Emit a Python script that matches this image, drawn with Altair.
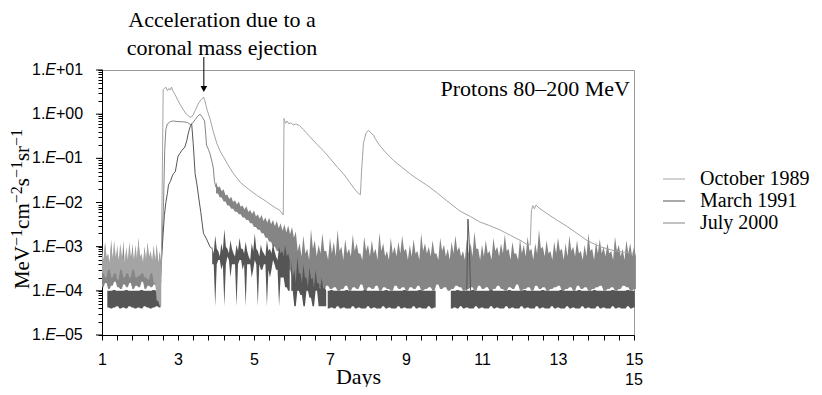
import altair as alt
import pandas as pd

SERIF = "Liberation Serif"
SANS = "Liberation Sans"

SERIES = ["October 1989", "March 1991", "July 2000"]
COLORS = ["#a4a4a4", "#555555", "#858585"]
UNIT = 1e-4  # noise envelopes are listed in units of 1e-4

# ---------------- October 1989 ----------------
OCT_BG_START, OCT_BG_STEP = 1.00, 0.08
OCT_BG_TOP = [9, 13, 7, 11, 14, 8, 12, 6, 10, 13, 8, 11, 15, 7, 10, 12, 8, 11, 9, 7]
OCT_BG_CORE = [5, 6, 4.5, 5.5, 6, 5, 6.5, 4, 5, 6, 5, 5.5, 6, 4.5, 5, 6, 5, 5, 4, 3]
OCT_BG_LO = [2.5, 2, 3, 2, 2.5, 1.8, 3, 2, 2.5, 2, 3, 2, 2.2, 2.5, 2, 1.8, 2.5, 1.5, 0.6, 0.45]
OCT_DAYS = [2.56, 2.60, 2.61, 2.65, 2.68, 2.72, 2.76, 2.79, 2.83, 2.87, 2.92, 2.97, 3.05, 3.14,
            3.22, 3.32, 3.38, 3.45, 3.53, 3.60, 3.67, 3.71, 3.76, 3.84, 3.93, 4.02, 4.10, 4.19,
            4.30, 4.46, 4.65, 4.89, 5.10, 5.33, 5.50, 5.68, 5.77, 5.79, 5.83, 5.87, 5.92, 5.97,
            6.03, 6.10, 6.20, 6.30, 6.39, 6.50, 6.65, 6.82, 7.00, 7.20, 7.35, 7.50, 7.65, 7.75,
            7.80, 7.83, 7.88, 7.95, 8.02, 8.08, 8.14, 8.20, 8.30, 8.45, 8.67, 8.90, 9.10, 9.30,
            9.54, 9.80, 10.07, 10.25, 10.42, 10.70, 10.95, 11.20, 11.47, 11.75, 12.00, 12.20,
            12.27, 12.30, 12.34, 12.38, 12.42, 12.50, 12.70, 12.95, 13.23, 13.50, 13.75, 14.10,
            14.50, 15.00]
OCT_FLUX = [3e-4, 0.5, 3.6, 3.9, 4.1, 3.4, 3.8, 3.5, 4.1, 3.3, 2.8, 2.3, 1.7, 1.25,
            1.0, 0.85, 0.9, 1.2, 1.7, 2.1, 2.4, 2.0, 1.3, 0.8, 0.4, 0.22, 0.15, 0.11,
            0.075, 0.045, 0.028, 0.019, 0.014, 0.0105, 0.0082, 0.0066, 0.0052, 0.8, 0.62, 0.7, 0.6, 0.64,
            0.57, 0.6, 0.55, 0.45, 0.37, 0.29, 0.21, 0.15, 0.10, 0.062, 0.045, 0.030, 0.020, 0.016,
            0.015, 0.05, 0.22, 0.38, 0.43, 0.37, 0.34, 0.27, 0.20, 0.14, 0.09, 0.062, 0.045, 0.034,
            0.025, 0.017, 0.011, 0.0083, 0.0064, 0.0048, 0.0036, 0.0030, 0.0024, 0.0018, 0.0014, 0.0011,
            0.0011, 0.0065, 0.0085, 0.0072, 0.0088, 0.0075, 0.0057, 0.0041, 0.0029, 0.0020, 0.0014, 0.0010,
            0.0008, 0.0007]

# ---------------- July 2000 ----------------
JUL_BG_START, JUL_BG_STEP = 1.00, 0.08
JUL_BG_TOP = [7, 12, 5, 15, 8, 11, 6, 14, 9, 5, 12, 7, 16, 6, 10, 13, 5, 9, 12, 8]
JUL_BG_CORE = [3, 4, 3, 4.5, 3.5, 4, 3, 4, 3.5, 3, 4, 3.5, 4.5, 3, 4, 4, 3, 3.5, 4, 3.5]
JUL_BG_LO = [1.2, 1.5, 1.1, 1.3, 1.6, 1.2, 1.1, 1.4, 1.2, 1.5, 1.1, 1.3, 1.2, 1.6, 1.1, 1.3, 1.2, 1.4, 1.1, 1.5]
JUL_DAYS = [2.56, 2.62, 2.65, 2.68, 2.72, 2.80, 2.88, 3.00, 3.14, 3.25, 3.32, 3.38, 3.45, 3.52,
            3.58, 3.64, 3.70, 3.73, 3.75, 3.80, 3.84, 3.90, 3.93, 3.96, 4.00]
JUL_FLUX = [4e-4, 0.01, 0.15, 0.45, 0.6, 0.68, 0.7, 0.68, 0.67, 0.65, 0.58, 0.62, 0.75, 0.9,
            1.0, 0.85, 0.7, 0.35, 0.2, 0.16, 0.13, 0.08, 0.06, 0.03, 0.022]
JUL_TAIL_START, JUL_TAIL_STEP = 4.00, 0.10
JUL_TAIL_TOP = [290, 230, 200, 150, 135, 112, 105, 86, 82, 68, 66, 54, 52, 46, 45, 40, 38, 34, 32, 30, 28,
                22, 12, 18, 9, 25, 14, 11, 20, 8, 16, 13, 24, 10, 15, 9, 19, 12, 7, 17, 11,
                14, 9, 21, 12, 8, 16, 10, 13, 18, 9, 11, 15, 8, 20, 12, 10, 14, 7, 16, 11,
                9, 13, 18, 10, 8, 15, 12, 22, 9, 11, 14, 8, 16, 10, 12, 19, 9, 13, 7, 15,
                11, 17, 9, 12, 24, 10, 14, 8, 13, 16, 9, 12, 18, 10, 14, 8, 11, 20, 9, 13,
                15, 10, 12, 8, 17, 11, 9, 14, 12, 10]
JUL_TAIL_CORE = [220, 180, 145, 120, 102, 90, 80, 69, 61, 55, 48, 43, 38, 35, 32, 29, 26, 23, 21, 19, 16,
                 8, 6, 7, 5, 9, 6, 7, 8, 5, 7, 6, 8, 5, 7, 6, 8, 7, 5, 8, 6,
                 7, 5, 8, 6, 5, 7, 6, 7, 8, 5, 6, 7, 5, 8, 7, 6, 7, 5, 8, 6,
                 5, 7, 8, 6, 5, 7, 6, 9, 5, 6, 7, 5, 8, 6, 7, 8, 5, 7, 5, 7,
                 6, 8, 5, 7, 9, 6, 7, 5, 7, 8, 5, 6, 8, 6, 7, 5, 6, 8, 5, 7,
                 7, 6, 7, 5, 8, 6, 5, 7, 6, 6]
JUL_TAIL_LO = [160, 130, 105, 86, 72, 62, 54, 46, 40, 34, 28, 24, 20, 16, 13, 10, 8, 6, 4, 3, 2,
               1.3, 1.1, 1.2, 1.0, 1.4, 1.1, 1.2, 1.0, 1.3, 1.1, 1.2, 1.0, 1.1, 1.3, 1.0, 1.2, 1.1, 1.4, 1.0, 1.2,
               1.1, 1.3, 1.0, 1.2, 1.1, 1.0, 1.3, 1.1, 1.2, 1.0, 1.2, 1.1, 1.3, 1.0, 1.1, 1.2, 1.0, 1.4, 1.1, 1.2,
               1.0, 1.1, 1.3, 1.2, 1.0, 1.1, 1.2, 1.0, 1.3, 1.1, 1.2, 1.0, 1.1, 1.3, 1.1, 1.0, 1.2, 1.1, 1.4, 1.0,
               1.1, 1.2, 1.0, 1.3, 1.1, 1.2, 1.0, 1.1, 1.2, 1.3, 1.0, 1.1, 1.2, 1.0, 1.3, 1.1, 1.2, 1.0, 1.1, 1.2,
               1.3, 1.0, 1.1, 1.2, 1.0, 1.1, 1.3, 1.2, 1.0, 1.1]

# ---------------- March 1991 ----------------
MAR_STEP = 0.08
MAR_BAND1_START = 1.14
MAR_BAND1_TOP = [1.0, 1.0, 1.05, 1.0, 1.0, 1.0, 1.05, 1.0, 1.0, 1.0, 1.0, 1.05, 1.0, 1.0, 1.0, 1.05, 1.0, 1.0]
MAR_BAND1_LO = [0.42, 0.4, 0.42, 0.45, 0.4, 0.42, 0.4, 0.45, 0.42, 0.4, 0.42, 0.4, 0.45, 0.42, 0.4, 0.42, 0.45, 0.42]
MAR_DAYS = [2.50, 2.54, 2.58, 2.61, 2.64, 2.68, 2.72, 2.75, 2.80, 2.85, 2.88, 2.93, 2.97, 3.00, 3.05,
            3.10, 3.18, 3.23, 3.28, 3.32, 3.36, 3.40, 3.45, 3.50, 3.55, 3.60, 3.67, 3.75, 3.84, 3.90]
MAR_FLUX = [1e-4, 2e-4, 8e-4, 0.002, 0.005, 0.01, 0.016, 0.025, 0.03, 0.04, 0.045, 0.05, 0.08, 0.11, 0.13,
            0.15, 0.18, 0.25, 0.4, 0.52, 0.6, 0.22, 0.045, 0.025, 0.012, 0.006, 0.002, 0.0015, 0.001, 0.0009]
MAR_NOISE_START = 3.90
MAR_NOISE_TOP = [10, 18, 8, 12, 25, 9, 14, 7, 11, 16, 9, 13, 6, 12, 20, 8, 11, 7, 14, 9, 12, 6, 10, 8, 11, 7]
MAR_NOISE_CORE = [7, 9, 6, 8, 10, 7, 9, 6, 8, 9, 7, 8, 5, 8, 9, 6, 8, 6, 8, 7, 8, 5, 7, 6, 6, 5]
MAR_NOISE_LO = [4, 0.45, 5, 3, 0.45, 6, 2, 4, 0.45, 5, 3, 0.45, 4, 2, 5, 0.45, 3, 4, 0.45, 2, 5, 3, 0.45, 2, 1.2, 1]
MAR_NOISE_CORE_LO = [4, 4, 5, 4, 4, 5, 4, 4, 4, 5, 4, 4, 4, 3, 4, 4, 3, 4, 3, 3, 4, 3, 2, 2, 1.2, 1]
MAR_QUIET_START = 5.98
MAR_QUIET_TOP = [5, 3, 6, 2.5, 4, 2, 3.5, 2, 3, 1.5, 2, 1.2]
MAR_QUIET_CORE = [2, 1.5, 2.5, 1.5, 2, 1.2, 1.8, 1.2, 1.5, 1.1, 1.1, 1.0]
MAR_QUIET_LO = [1, 0.45, 1, 0.8, 0.45, 1, 0.7, 0.45, 1, 0.45, 0.45, 0.45]
MAR_BAND2_START = 6.94
MAR_BAND2_TOP = [1.0, 1.05, 1.0, 1.0, 1.0, 1.0, 1.05, 1.0, 1.0, 1.0, 1.0, 1.0, 1.05, 1.0, 1.0, 1.0, 1.0, 1.0,
                 1.0, 1.05, 1.0, 1.0, 1.0, 1.0, 1.0, 1.05, 1.0, 1.0, 1.0, 1.0, 1.05, 1.0, 1.0, 1.0, 1.0, 1.0]
MAR_BAND2_LO = [0.4, 0.42, 0.4, 0.45, 0.4, 0.42, 0.4, 0.4, 0.45, 0.4, 0.42, 0.4, 0.4, 0.45, 0.4, 0.42, 0.4, 0.4,
                0.45, 0.4, 0.42, 0.4, 0.4, 0.45, 0.4, 0.42, 0.4, 0.4, 0.45, 0.4, 0.42, 0.4, 0.4, 0.45, 0.4, 0.42]
MAR_BAND3_START = 10.18
MAR_BAND3_TOP = [1.0, 1.0, 1.05, 1.0, 1.0, 1.0, 1.0, 1.05, 1.0, 1.0, 1.0, 1.0, 1.0, 1.05, 1.0, 1.0, 1.0, 1.0, 1.0, 1.05,
                 1.0, 1.0, 1.0, 1.0, 1.05, 1.0, 1.0, 1.0, 1.0, 1.0, 1.05, 1.0, 1.0, 1.0, 1.0, 1.0, 1.05, 1.0, 1.0, 1.0,
                 1.0, 1.0, 1.05, 1.0, 1.0, 1.0, 1.0, 1.05, 1.0, 1.0, 1.0, 1.0, 1.0, 1.05, 1.0, 1.0, 1.0, 1.0, 1.05, 1.0, 1.0]
MAR_BAND3_LO = [0.4, 0.42, 0.4, 0.45, 0.4, 0.42, 0.4, 0.4, 0.45, 0.4, 0.42, 0.4, 0.4, 0.45, 0.4, 0.42, 0.4, 0.4, 0.45, 0.4,
                0.42, 0.4, 0.4, 0.45, 0.4, 0.42, 0.4, 0.4, 0.45, 0.4, 0.42, 0.4, 0.4, 0.45, 0.4, 0.42, 0.4, 0.4, 0.45, 0.4,
                0.42, 0.4, 0.4, 0.45, 0.4, 0.42, 0.4, 0.4, 0.45, 0.4, 0.42, 0.4, 0.4, 0.45, 0.4, 0.42, 0.4, 0.4, 0.45, 0.4, 0.42]
MAR_SPIKE_DAYS = [10.60, 10.63, 10.66, 10.70]
MAR_SPIKE_FLUX = [1e-4, 0.0042, 0.0015, 1e-4]

# ---------------- axes / text ----------------
X_TICKS = [round(1 + 0.4 * i, 1) for i in range(36)]
Y_MINOR = [k * 10.0 ** e for e in range(-5, 1) for k in range(1, 10)] + [10.0]
Y_LABEL_VALUES = [10, 1, 0.1, 0.01, 0.001, 1e-4, 1e-5]
Y_LABEL_MANT = "1."
Y_LABEL_E = "E"
Y_LABEL_EXP = ["+01", "+00", "\u201301", "\u201302", "\u201303", "\u201304", "\u201305"]
# y title pieces: (text, is_superscript)
Y_TITLE_PIECES = [("MeV", False), ("\u22121", True), ("cm", False), ("\u22122", True),
                  ("s", False), ("\u22121", True), ("sr", False), ("\u22121", True)]
X_TITLE = "Days"
PANEL_TITLE = "Protons 80\u2013200 MeV"
ANNOT = ["Acceleration due to a", "coronal mass ejection"]
ARROW_DAY = 3.68
EXTRA_X_LABEL = ["15"]
EXTRA_X_DAY = 15

# Times-metric glyph widths (em) used to lay out the rotated y title
GLYPH_W = {"M": .889, "e": .444, "V": .722, "c": .444, "m": .778, "s": .389, "r": .333,
           "1": .5, "2": .5, "\u2212": .564}


def band(start, step, top, core, lo, core_lo=None):
    """Noise envelope: spike top / lower value at each sample, core values half a step later."""
    core_lo = core_lo if core_lo is not None else lo
    out = []
    for i in range(len(top)):
        d = start + i * step
        out.append((d, top[i] * UNIT, lo[i] * UNIT))
        out.append((d + step / 2, core[i] * UNIT, core_lo[i] * UNIT))
    return pd.DataFrame(out, columns=["day", "up", "low"])


def curve(days, flux):
    return pd.DataFrame({"day": days, "flux": flux})


XS = alt.Scale(domain=[1, 15], nice=False, zero=False)
YS = alt.Scale(type="log", domain=[1e-5, 10], nice=False)

X_AXIS = alt.Axis(values=X_TICKS, labelExpr="(datum.value % 2 == 1) ? '' + datum.value : ''",
                  tickSize=5, tickColor="black", domainColor="black", grid=False,
                  labelFont=SANS, labelFontSize=16, labelColor="black", labelPadding=11,
                  labelOverlap=False, labelFlush=False, labelBound=False,
                  title=X_TITLE, titleFont=SERIF, titleFontSize=22, titleFontWeight="normal",
                  titleColor="black", titleX=256, titleY=41, titleBaseline="middle", titleAlign="center")
Y_AXIS = alt.Axis(values=Y_MINOR, labels=False, tickSize=4, tickColor="black", domainColor="black",
                  grid=False, title="")


def X(field="day"):
    return alt.X(f"{field}:Q", scale=XS, axis=X_AXIS, title=X_TITLE)


def Y(field="flux"):
    return alt.Y(f"{field}:Q", scale=YS, axis=Y_AXIS, title="")


color_of = dict(zip(SERIES, COLORS))


def area(data, s):
    return alt.Chart(data).mark_area(color=color_of[s], opacity=1, interpolate="linear").encode(
        x=X(), y=Y("up"), y2="low:Q")


def line(data, s):
    return alt.Chart(data).mark_line(color=color_of[s], strokeWidth=1).encode(x=X(), y=Y())


layers = [
    area(band(JUL_BG_START, JUL_BG_STEP, JUL_BG_TOP, JUL_BG_CORE, JUL_BG_LO), "July 2000"),
    line(curve(JUL_DAYS, JUL_FLUX), "July 2000"),
    area(band(JUL_TAIL_START, JUL_TAIL_STEP, JUL_TAIL_TOP, JUL_TAIL_CORE, JUL_TAIL_LO), "July 2000"),
    area(band(MAR_BAND1_START, MAR_STEP, MAR_BAND1_TOP, MAR_BAND1_TOP, MAR_BAND1_LO), "March 1991"),
    line(curve(MAR_DAYS, MAR_FLUX), "March 1991"),
    area(band(MAR_NOISE_START, MAR_STEP, MAR_NOISE_TOP, MAR_NOISE_CORE, MAR_NOISE_LO, MAR_NOISE_CORE_LO),
         "March 1991"),
    area(band(MAR_QUIET_START, MAR_STEP, MAR_QUIET_TOP, MAR_QUIET_CORE, MAR_QUIET_LO), "March 1991"),
    area(band(MAR_BAND2_START, MAR_STEP, MAR_BAND2_TOP, MAR_BAND2_TOP, MAR_BAND2_LO), "March 1991"),
    area(band(MAR_BAND3_START, MAR_STEP, MAR_BAND3_TOP, MAR_BAND3_TOP, MAR_BAND3_LO), "March 1991"),
    line(curve(MAR_SPIKE_DAYS, MAR_SPIKE_FLUX), "March 1991"),
    area(band(OCT_BG_START, OCT_BG_STEP, OCT_BG_TOP, OCT_BG_CORE, OCT_BG_LO), "October 1989"),
    line(curve(OCT_DAYS, OCT_FLUX), "October 1989"),
]

# major y ticks and y tick labels: "1." + italic "E" + exponent
dec = pd.DataFrame({"flux": Y_LABEL_VALUES, "exp": Y_LABEL_EXP})
layers.append(alt.Chart(dec).mark_rule(color="black", strokeWidth=1).encode(
    y=Y(), x=alt.value(-6), x2=alt.value(1)))
layers.append(alt.Chart(dec).mark_text(text=Y_LABEL_MANT, align="left", baseline="middle", font=SANS,
                                       fontSize=16, color="black").encode(y=Y(), x=alt.value(-70)))
layers.append(alt.Chart(dec).mark_text(text=Y_LABEL_E, align="left", baseline="middle", font=SANS,
                                       fontSize=16, fontStyle="italic", color="black").encode(
    y=Y(), x=alt.value(-56.7)))
layers.append(alt.Chart(dec).mark_text(align="left", baseline="middle", font=SANS,
                                       fontSize=16, color="black").encode(
    y=Y(), x=alt.value(-46), text="exp:N"))

# rotated y-axis title built from base text and superscripts
BASE_FS, SUP_FS = 21, 16
title_len = sum(sum(GLYPH_W[c] for c in t) * (SUP_FS if sup else BASE_FS) for t, sup in Y_TITLE_PIECES)
cur = 139 + title_len / 2
for t, sup in Y_TITLE_PIECES:
    fs = SUP_FS if sup else BASE_FS
    layers.append(alt.Chart(pd.DataFrame({"t": [t]})).mark_text(
        align="left", baseline="middle", angle=270, font=SERIF, fontSize=fs, color="black").encode(
        x=alt.value(-79.5 - (6 if sup else 0)), y=alt.value(cur), text="t:N"))
    cur -= sum(GLYPH_W[c] for c in t) * fs

# extra "15" below the axis
layers.append(alt.Chart(pd.DataFrame({"day": [EXTRA_X_DAY], "t": EXTRA_X_LABEL})).mark_text(
    align="center", baseline="middle", font=SANS, fontSize=16, color="black").encode(
    x=X(), y=alt.value(310), text="t:N"))

# annotation arrow + text
arr = pd.DataFrame({"day": [ARROW_DAY]})
layers.append(alt.Chart(arr).mark_rule(color="black", strokeWidth=1).encode(
    x=X(), y=alt.value(-13), y2=alt.value(17)))
layers.append(alt.Chart(arr).mark_point(shape="triangle-down", filled=True, size=45, color="black",
                                        opacity=1).encode(x=X(), y=alt.value(19)))
for k, txt in enumerate(ANNOT):
    layers.append(alt.Chart(pd.DataFrame({"t": [txt]})).mark_text(
        align="center", baseline="middle", font=SERIF, fontSize=22, color="black").encode(
        x=alt.value(120), y=alt.value(-50 + 28 * k), text="t:N"))

layers.append(alt.Chart(pd.DataFrame({"t": [PANEL_TITLE]})).mark_text(
    align="right", baseline="middle", font=SERIF, fontSize=22, color="black").encode(
    x=alt.value(528), y=alt.value(19), text="t:N"))

# legend
for k, s in enumerate(SERIES):
    ly = 109 + 22 * k
    layers.append(alt.Chart(pd.DataFrame({"t": [s]})).mark_rule(color=color_of[s], strokeWidth=1).encode(
        x=alt.value(561), x2=alt.value(583), y=alt.value(ly)))
    layers.append(alt.Chart(pd.DataFrame({"t": [s]})).mark_text(
        align="left", baseline="middle", font=SERIF, fontSize=20, color="black").encode(
        x=alt.value(598), y=alt.value(ly), text="t:N"))

chart = alt.layer(*layers).properties(
    width=532, height=265,
    autosize=alt.AutoSizeParams(type="none"),
    padding={"left": 94, "top": 62, "right": 180, "bottom": 52},
    background="white",
).configure_view(stroke="#9a9a9a", strokeWidth=1)

chart.save("out.html", embed_options={"renderer": "svg", "actions": False})
